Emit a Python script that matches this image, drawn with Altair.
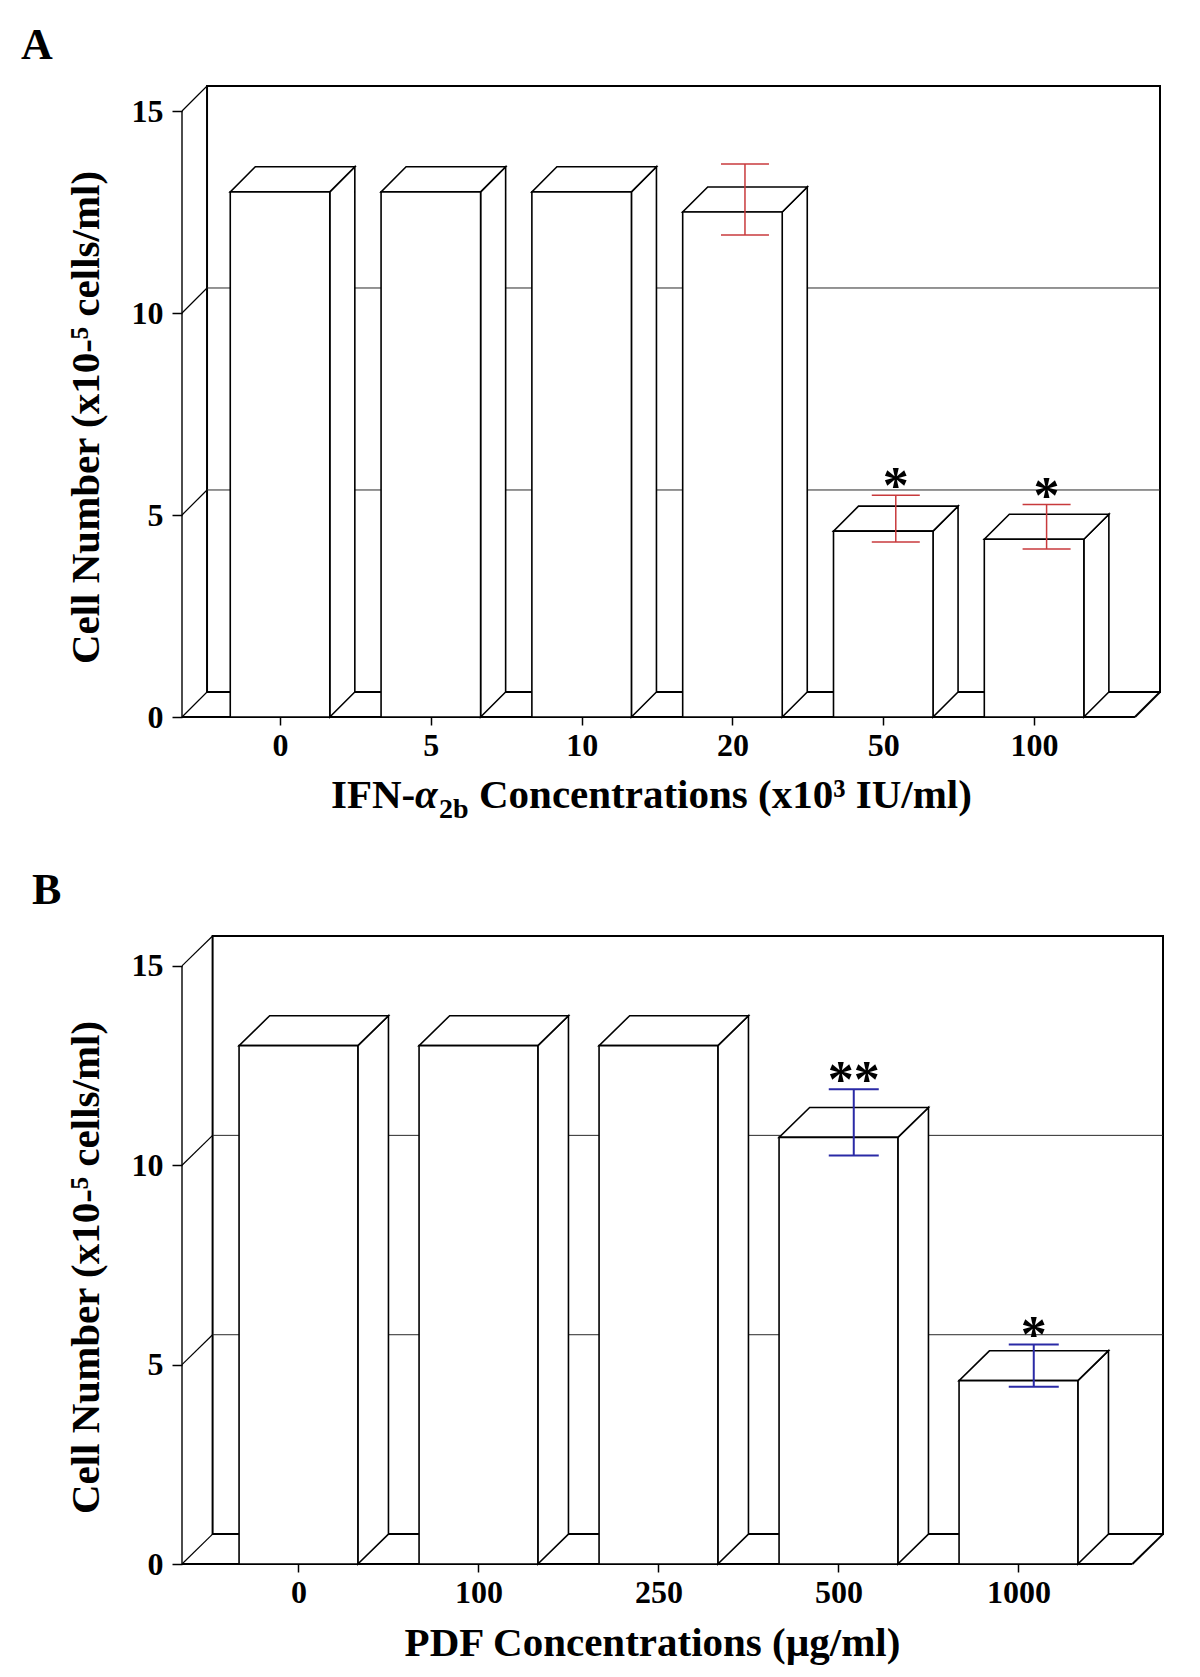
import json
import altair as alt
import pandas as pd

FONT = "Liberation Serif"

# ---- Panel A : IFN-alpha2b ----
a_labels = ["0", "5", "10", "20", "50", "100"]
a_values = [13.0, 13.0, 13.0, 12.5, 4.6, 4.4]
a_errors = [0.0, 0.0, 0.0, 0.88, 0.58, 0.55]
a_stars = ["", "", "", "", "*", "*"]

# ---- Panel B : PDF ----
b_labels = ["0", "100", "250", "500", "1000"]
b_values = [13.0, 13.0, 13.0, 10.7, 4.6]
b_errors = [0.0, 0.0, 0.0, 0.83, 0.53]
b_stars = ["", "", "", "**", "*"]

y_ticks = [0, 5, 10, 15]
y_title = "Cell Number (x10-\u2075 cells/ml)"
a_title_parts = ["IFN-", "\u03b1", "2b", "Concentrations (x10\u00b3 IU/ml)"]
b_title = "PDF Concentrations (\u00b5g/ml)"


def text_layer(text, x, y, size, style="normal", align="left"):
    return alt.Chart(pd.DataFrame({"t": [text]})).mark_text(
        font=FONT, fontSize=size, fontWeight="bold", fontStyle=style,
        align=align, baseline="alphabetic", color="black"
    ).encode(x=alt.value(x), y=alt.value(y), text="t:N")


def panel(labels, values, errors, stars, *, width, height, xdom, ydom, dx, dy,
          err_color, err_width, cap, letter, letter_xy, x_title=None,
          title_x=467, title_layers=()):
    n = len(labels)
    fl = xdom[0]
    fr = xdom[1] - dx
    ymax = y_ticks[-1]
    half = 0.33
    xs = alt.Scale(domain=list(xdom), nice=False, zero=False)
    ys = alt.Scale(domain=list(ydom), nice=False, zero=False)

    common = dict(labelFont=FONT, labelFontSize=32, labelFontWeight="bold",
                  labelColor="black", tickColor="black", tickWidth=1.5,
                  domain=False, grid=False, titleFont=FONT, titleFontSize=41,
                  titleFontWeight="bold", titleColor="black")
    xaxis_kw = dict(values=list(range(n)),
                    labelExpr=f"{json.dumps(labels)}[datum.value]",
                    tickSize=8, labelPadding=5, labelFlush=False, **common)
    if x_title:
        xaxis_kw.update(title=x_title, titleX=title_x, titleY=91,
                        titleAlign="center", titleBaseline="alphabetic")
    else:
        xaxis_kw.update(title=None)
    xaxis = alt.Axis(**xaxis_kw)
    yaxis = alt.Axis(values=y_ticks, format="d", tickSize=10, labelPadding=9,
                     title=y_title, titleX=-96, titleY=331, titleAngle=270,
                     titleAlign="center", titleBaseline="middle", **common)

    def X(f):
        return alt.X(f"{f}:Q", scale=xs, axis=xaxis, stack=None)

    def Y(f):
        return alt.Y(f"{f}:Q", scale=ys, axis=yaxis, stack=None)

    bars = pd.DataFrame({"i": list(range(n)), "v": values, "e": errors, "star": stars})
    bars["L"] = bars["i"] - half
    bars["R"] = bars["i"] + half
    bars["b0"] = 0.0
    bars["xc"] = bars["i"] + dx / 2
    bars["lo"] = bars["v"] - bars["e"] + dy / 2
    bars["hi"] = bars["v"] + bars["e"] + dy / 2

    wall_df = pd.DataFrame({"x0": [fl + dx], "x1": [fr + dx], "y0": [dy], "y1": [ymax + dy]})
    wall = alt.Chart(wall_df).mark_rect(fill="white", stroke="black", strokeWidth=2).encode(
        x=X("x0"), x2="x1", y=Y("y0"), y2="y1")

    segs = []

    def seg(xa, ya, xb, yb, w, c):
        segs.append(dict(xa=xa, ya=ya, xb=xb, yb=yb, w=w, c=c))

    for g in y_ticks[1:-1]:
        seg(fl + dx, g + dy, fr + dx, g + dy, 1.0, "#2a2a2a")
    for g in y_ticks:
        seg(fl, g, fl + dx, g + dy, 1.2, "black")
    seg(fl, 0, fl, ymax, 1.4, "black")
    seg(fl, 0, fr, 0, 2.0, "black")
    seg(fr, 0, fr + dx, dy, 2.0, "black")
    seg_layer = alt.Chart(pd.DataFrame(segs)).mark_rule().encode(
        x=X("xa"), x2="xb", y=Y("ya"), y2="yb",
        strokeWidth=alt.StrokeWidth("w:Q", scale=None),
        color=alt.Color("c:N", scale=None))

    side_rows, top_rows = [], []
    for _, r in bars.iterrows():
        side_rows.append(dict(bar=r.i, sx=r.R, s0=0.0, s1=r.v))
        side_rows.append(dict(bar=r.i, sx=r.R + dx, s0=dy, s1=r.v + dy))
        top_rows.append(dict(bar=r.i, ty=r.v, t0=r.L, t1=r.R))
        top_rows.append(dict(bar=r.i, ty=r.v + dy, t0=r.L + dx, t1=r.R + dx))
    sides = alt.Chart(pd.DataFrame(side_rows)).mark_area(
        orient="vertical", fill="white", stroke="black", strokeWidth=1.6,
        strokeJoin="miter").encode(x=X("sx"), y=Y("s0"), y2="s1", detail="bar:N")
    tops = alt.Chart(pd.DataFrame(top_rows)).mark_area(
        orient="horizontal", fill="white", stroke="black", strokeWidth=1.6,
        strokeJoin="miter").encode(y=Y("ty"), x=X("t0"), x2="t1", detail="bar:N")
    fronts = alt.Chart(bars).mark_rect(fill="white", stroke="black", strokeWidth=1.6).encode(
        x=X("L"), x2="R", y=Y("b0"), y2="v")

    eb = bars[bars["e"] > 0]
    errv = alt.Chart(eb).mark_rule(color=err_color, strokeWidth=err_width).encode(
        x=X("xc"), y=Y("lo"), y2="hi")
    caps_df = pd.concat([eb.assign(cy=eb["lo"]), eb.assign(cy=eb["hi"])])
    caps = alt.Chart(caps_df).mark_rule(color=err_color, strokeWidth=err_width,
                                        xOffset=-cap, x2Offset=cap).encode(
        x=X("xc"), x2="xc", y=Y("cy"))
    star_layer = alt.Chart(eb).mark_text(font=FONT, fontSize=52, fontWeight="bold",
                                         baseline="alphabetic", dy=8, color="black").encode(
        x=X("xc"), y=Y("hi"), text="star:N")

    letter_layer = text_layer(letter, letter_xy[0], letter_xy[1], 44)

    return alt.layer(wall, seg_layer, sides, tops, fronts, errv, caps,
                     star_layer, letter_layer, *title_layers).properties(
        width=width, height=height)


a_title_layers = [
    text_layer(a_title_parts[0], 149, 722, 41),
    text_layer(a_title_parts[1], 233, 722, 41, style="italic"),
    text_layer(a_title_parts[2], 257, 732, 28),
    text_layer(a_title_parts[3], 297, 722, 41),
]

chart_a = panel(a_labels, a_values, a_errors, a_stars, width=978, height=631,
                xdom=(-0.65, 5.835), ydom=(0, 15.62), dx=0.166, dy=0.62,
                err_color="#c83a3c", err_width=1.5, cap=24, letter="A",
                letter_xy=(-161, -27), title_layers=a_title_layers)
chart_b = panel(b_labels, b_values, b_errors, b_stars, width=981, height=628,
                xdom=(-0.647, 4.803), ydom=(0, 15.75), dx=0.17, dy=0.75,
                err_color="#2a2aa6", err_width=2, cap=25, letter="B",
                letter_xy=(-150, -32), x_title=b_title, title_x=470)

chart = alt.vconcat(chart_a, chart_b, spacing=45).properties(
    padding={"left": 13, "top": 16, "right": 5, "bottom": 5},
    background="white",
).configure_view(stroke=None)

chart.save("out.html", embed_options={"renderer": "svg", "actions": False})
